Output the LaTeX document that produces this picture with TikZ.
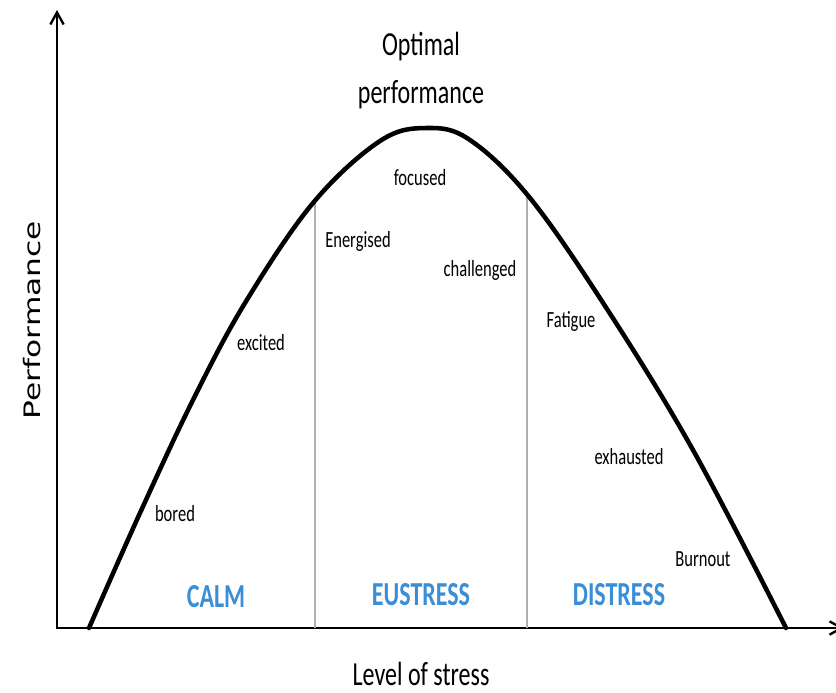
\documentclass[tikz,border=0pt]{standalone}
\usepackage{fontspec}
\setmainfont{Carlito}
\newfontfamily\perffont{DejaVu Sans}
\usetikzlibrary{arrows.meta}
\definecolor{zoneblue}{RGB}{58,142,214}
\definecolor{divgray}{RGB}{175,175,175}
\newcommand{\vs}[1]{\scalebox{1}[1.4]{#1}}
\begin{document}
\begin{tikzpicture}[x=0.75pt,y=-0.75pt,
  lbl/.style={inner sep=0pt, font=\fontsize{12.4pt}{14pt}\selectfont},
  zone/.style={inner sep=0pt, text=zoneblue, font=\bfseries\fontsize{18pt}{20pt}\selectfont},
  big/.style={inner sep=0pt, font=\fontsize{18pt}{20pt}\selectfont},
  axisline/.style={line width=1.8pt, -{Straight Barb[length=9pt,width=10pt]}},
  divider/.style={divgray, line width=1.1pt},
  curveline/.style={line width=3.4pt, line join=round, line cap=round}]
\useasboundingbox (0,0) rectangle (836,693);
% axes
\coordinate (o) at (57,628);
\coordinate (ytop) at (57,10);
\coordinate (xstart) at (56,628);
\coordinate (xend) at (844,628);
\draw[axisline] (57,629) -- (ytop);
\draw[axisline] (xstart) -- (xend);
% dividers
\coordinate (d1b) at (315,628);
\coordinate (d1t) at (315,202);
\coordinate (d2b) at (527,628);
\coordinate (d2t) at (527,197);
\draw[divider] (d1b) -- (d1t);
\draw[divider] (d2b) -- (d2t);
% curve
\draw[curveline] plot[smooth, tension=0.6] coordinates {
  (89,628) (140,513) (193,400) (245,303) (313,203) (380,141) (427,128)
  (470,140) (530,198) (607,309) (693,450) (786,628)};
% titles
\node[big] (opt1) at (421,47) {\vs{Optimal}};
\node[big] (opt2) at (421,95) {\vs{performance}};
\node[big] (xlab) at (421,674) {\vs{Level of stress}};
\node[inner sep=0pt, rotate=90, font=\perffont\fontsize{17pt}{19pt}\selectfont] (ylab) at (32,320) {\scalebox{1.38}[1]{Performance}};
% labels
\node[lbl] (focused) at (420,178) {\vs{focused}};
\node[lbl] (energised) at (358,241) {\vs{Energised}};
\node[lbl] (challenged) at (480,270) {\vs{challenged}};
\node[lbl] (excited) at (261,343) {\vs{excited}};
\node[lbl] (fatigue) at (571,321) {\vs{Fatigue}};
\node[lbl] (exhausted) at (629,457) {\vs{exhausted}};
\node[lbl] (bored) at (175,514) {\vs{bored}};
\node[lbl] (burnout) at (703,559) {\vs{Burnout}};
% zones
\node[zone] (calm) at (216,597) {\vs{CALM}};
\node[zone] (eustress) at (421,595) {\vs{EUSTRESS}};
\node[zone] (distress) at (619,595) {\vs{DISTRESS}};
\end{tikzpicture}
\end{document}
